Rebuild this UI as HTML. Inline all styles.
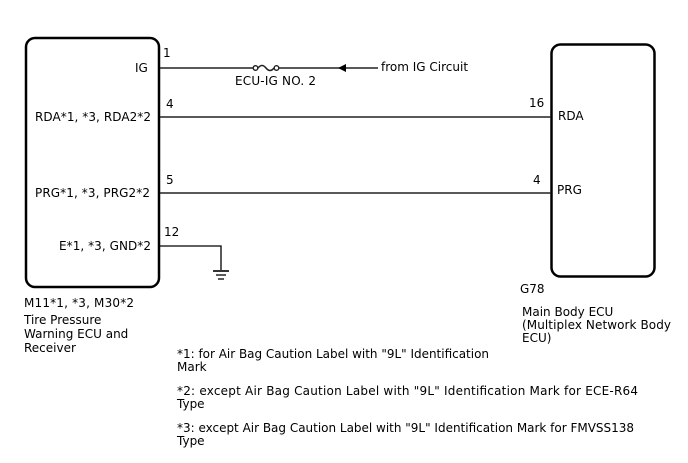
<!DOCTYPE html>
<html><head><style>body{margin:0;background:#fff}svg{display:block}text{font-family:"DejaVu Sans","Liberation Sans",sans-serif;font-size:12px;fill:#000}</style></head><body>
<svg width="688" height="463" viewBox="0 0 688 463" xmlns="http://www.w3.org/2000/svg">
<rect x="26" y="38" width="133" height="249" rx="9" fill="none" stroke="#000" stroke-width="2.5"/>
<rect x="551.5" y="44.5" width="103" height="232" rx="9" fill="none" stroke="#000" stroke-width="2.5"/>
<g stroke="#222" stroke-width="1.6" fill="none">
<line x1="160" y1="68" x2="253" y2="68"/>
<line x1="279" y1="68" x2="378" y2="68"/>
<path d="M258 68 Q262 63 266 68 T274 68"/>
<line x1="160" y1="117" x2="551" y2="117"/>
<line x1="160" y1="193" x2="551" y2="193"/>
</g>
<circle cx="255.5" cy="68" r="2.3" fill="#fff" stroke="#222" stroke-width="1.4"/>
<circle cx="276.5" cy="68" r="2.3" fill="#fff" stroke="#222" stroke-width="1.4"/>
<polygon points="338,68 346,64 346,72" fill="#000"/>
<g stroke="#000" stroke-width="1.3">
<polyline points="160,246 221,246 221,270" fill="none"/>
<line x1="213" y1="271" x2="229" y2="271" stroke-width="1.6"/>
<line x1="216" y1="275" x2="226" y2="275"/>
<line x1="218" y1="279" x2="224" y2="279"/>
</g>
<text x="135" y="72">IG</text>
<text x="163" y="57">1</text>
<text x="235" y="85" textLength="81">ECU-IG NO. 2</text>
<text x="381" y="71">from IG Circuit</text>
<text x="35" y="121" textLength="116">RDA*1, *3, RDA2*2</text>
<text x="166" y="108">4</text>
<text x="529" y="107">16</text>
<text x="558" y="120">RDA</text>
<text x="35" y="197" textLength="115">PRG*1, *3, PRG2*2</text>
<text x="166" y="184">5</text>
<text x="533" y="184">4</text>
<text x="557" y="194">PRG</text>
<text x="59" y="250" textLength="92">E*1, *3, GND*2</text>
<text x="164" y="236">12</text>
<text x="24" y="307" textLength="110">M11*1, *3, M30*2</text>
<text x="24" y="324">Tire Pressure</text>
<text x="24" y="338">Warning ECU and</text>
<text x="24" y="352">Receiver</text>
<text x="520" y="293">G78</text>
<text x="522" y="316">Main Body ECU</text>
<text x="522" y="329" textLength="149">(Multiplex Network Body</text>
<text x="522" y="342">ECU)</text>
<text x="177" y="358" textLength="312">*1: for Air Bag Caution Label with "9L" Identification</text>
<text x="177" y="371">Mark</text>
<text x="177" y="395" textLength="461">*2: except Air Bag Caution Label with "9L" Identification Mark for ECE-R64</text>
<text x="177" y="408">Type</text>
<text x="177" y="432" textLength="457">*3: except Air Bag Caution Label with "9L" Identification Mark for FMVSS138</text>
<text x="177" y="445">Type</text>
</svg>
</body></html>
